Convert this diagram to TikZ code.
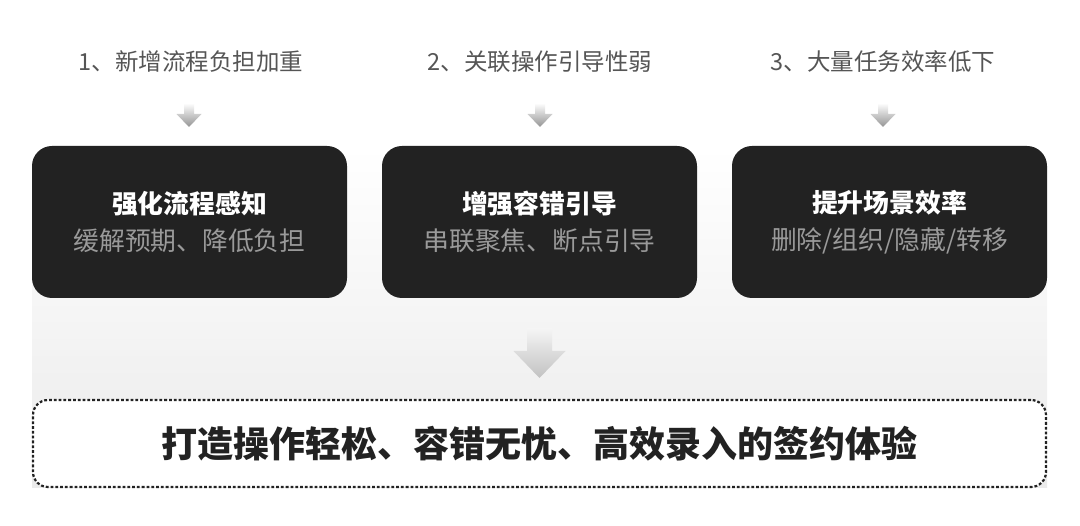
\documentclass[tikz,border=0pt]{standalone}
\usepackage{fontspec}
\setmainfont{Noto Sans CJK SC}
\definecolor{ink}{HTML}{222222}
\definecolor{headgray}{HTML}{555555}
\definecolor{subgray}{HTML}{9A9A9A}
\tikzset{card/.style = {fill = ink, rounded corners = 20, minimum width = 315, minimum height = 152, inner sep = 0, align = center, font = \fontsize{25.8}{37}\selectfont}}
\tikzset{head/.style = {text = headgray, inner sep = 0, font = \fontsize{23.5}{28}\selectfont}}
\tikzset{smallarr/.style = {top color = white, bottom color = black!42, draw = none}}
\usetikzlibrary{calc}
\newcommand{\dnarrow}[1]{% small arrow ending at #1
    \shade[smallarr] ($(#1)+(-5,-24)$) -- ($(#1)+(5,-24)$) -- ($(#1)+(5,-13)$) -- ($(#1)+(12.5,-13)$)
        -- (#1) -- ($(#1)+(-12.5,-13)$) -- ($(#1)+(-5,-13)$) -- cycle;}

\begin{document}
\begin{tikzpicture}[x=1pt, y=-1pt]
    \useasboundingbox (0,0) rectangle (1080,526);
    \shade[top color = white, bottom color = black!8] (32,146) rectangle (1047,488);
    \node[head] (h1) at (191,62) {1、新增流程负担加重};
    \node[head] (h2) at (540,62) {2、关联操作引导性弱};
    \node[head] (h3) at (883,62) {3、大量任务效率低下};
    \node[card] (c1) at (189.5,222) {\textbf{\color{white}强化流程感知}\\\color{subgray}缓解预期、降低负担};
    \node[card] (c2) at (539.5,222) {\textbf{\color{white}增强容错引导}\\\color{subgray}串联聚焦、断点引导};
    \node[card] (c3) at (889.5,222) {\textbf{\color{white}提升场景效率}\\\color{subgray}删除/组织/隐藏/转移};
    \coordinate (a1) at (189,127);
    \coordinate (a2) at (540,127);
    \coordinate (a3) at (883,127);
    \dnarrow{a1}
    \dnarrow{a2}
    \dnarrow{a3}
    %\draw (h1) -- (c1);
    \coordinate (big) at (539.5,378);
    \shade[top color = black!4, bottom color = black!24] ($(big)+(-12.5,-50)$) -- ($(big)+(12.5,-50)$) -- ($(big)+(12.5,-27)$)
        -- ($(big)+(26,-27)$) -- (big) -- ($(big)+(-26,-27)$) -- ($(big)+(-12.5,-27)$) -- cycle;
    \node[draw = ink, fill = white, line width = 2.2, dash pattern = on 2.8 off 2, rounded corners = 15,
          minimum width = 1013, minimum height = 87, inner sep = 0, text = ink,
          font = \fontsize{36}{40}\selectfont\bfseries] (goal) at (539.5,443.5) {打造操作轻松、容错无忧、高效录入的签约体验};
\end{tikzpicture}
\end{document}
